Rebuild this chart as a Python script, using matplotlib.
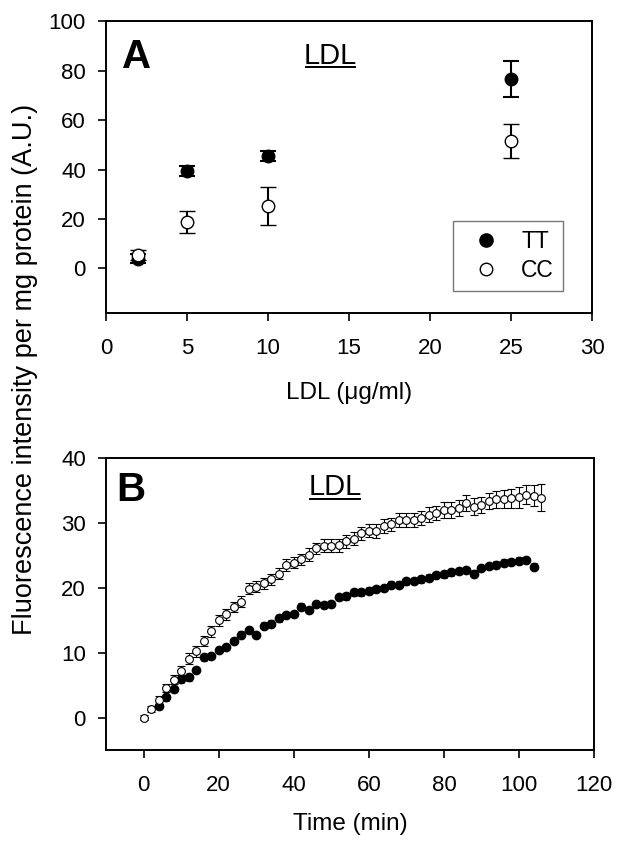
import matplotlib
matplotlib.use("Agg")
import matplotlib.pyplot as plt
from matplotlib.lines import Line2D

plt.rcParams["font.family"] = ["Liberation Sans", "DejaVu Sans"]

# ---- panel A: dose response ----
dose = [2, 5, 10, 25]
tt_a = [4.0, 39.5, 45.5, 76.5]
tt_a_err = [1.8, 2.0, 2.0, 7.2]
cc_a = [5.3, 18.8, 25.3, 51.5]
cc_a_err = [2.0, 4.3, 7.8, 6.9]

# ---- panel B: time course ----
time_cc = list(range(0, 108, 2))
cc_b = [0.0, 1.3, 2.7, 4.6, 5.8, 7.2, 9.1, 10.2, 11.8, 13.3,
        15.0, 15.9, 17.1, 17.9, 19.9, 20.2, 20.7, 21.3, 22.2, 23.5,
        23.9, 24.4, 25.1, 26.1, 26.5, 26.5, 26.6, 27.2, 27.6, 28.4,
        28.8, 28.8, 29.5, 29.8, 30.5, 30.5, 30.5, 30.8, 31.3, 31.5,
        32.0, 32.0, 32.3, 33.1, 32.5, 32.8, 33.4, 33.7, 33.7, 33.8,
        34.0, 34.4, 34.2, 33.9]
cc_b_err = [0.4, 0.5, 0.6, 0.6, 0.7, 0.7, 0.8, 0.8, 0.8, 0.8,
            0.8, 0.8, 0.8, 0.8, 0.9, 0.8, 0.9, 0.9, 0.9, 0.9,
            0.9, 0.9, 1.0, 0.9, 1.0, 1.0, 1.0, 1.0, 1.0, 1.0,
            1.0, 1.1, 1.1, 1.0, 1.1, 1.1, 1.1, 1.1, 1.2, 1.1,
            1.2, 1.2, 1.2, 1.3, 1.3, 1.3, 1.3, 1.3, 1.4, 1.4,
            1.6, 1.5, 1.6, 2.1]
time_tt = list(range(4, 106, 2))
tt_b = [1.8, 3.1, 4.4, 5.9, 6.2, 7.3, 9.3, 9.5, 10.4, 10.9,
        11.8, 12.8, 13.5, 12.7, 14.2, 14.5, 15.3, 15.8, 16.0, 17.1,
        16.6, 17.5, 17.4, 17.5, 18.6, 18.7, 19.3, 19.3, 19.6, 19.8,
        20.0, 20.5, 20.5, 21.0, 21.1, 21.3, 21.6, 22.0, 22.1, 22.4,
        22.6, 22.8, 22.2, 23.1, 23.4, 23.6, 23.9, 24.0, 24.2, 24.3,
        23.3]
tt_b_err = [0.5] * len(tt_b)

fig = plt.figure(figsize=(6.24, 8.48), dpi=100)
ax_a = fig.add_axes([0.170, 0.631, 0.779, 0.344])
ax_b = fig.add_axes([0.170, 0.1156, 0.782, 0.344])

TICK_FS = 16
LABEL_FS = 17.5


def style_axes(ax):
    for s in ax.spines.values():
        s.set_linewidth(1.4)
    ax.tick_params(direction="out", length=5.5, width=1.2, labelsize=TICK_FS)
    ax.tick_params(axis="x", pad=12.5)
    ax.tick_params(axis="y", pad=9)


def underlined(ax, x, y, s, size):
    # matplotlib mathtext has no \underline, so draw the rule under the text box
    t = ax.text(x, y, s, transform=ax.transAxes, fontsize=size,
                ha="center", va="center")
    fig.canvas.draw()
    bb = t.get_window_extent().transformed(fig.transFigure.inverted())
    fig.add_artist(Line2D([bb.x0 + 0.003, bb.x1 - 0.003], [bb.y0 + 0.003] * 2,
                          color="black", lw=1.4, transform=fig.transFigure))


# panel A
ax_a.errorbar(dose, tt_a, yerr=tt_a_err, fmt="o", color="black", mfc="black",
              mec="black", ms=9, ecolor="black", elinewidth=1.5, capsize=5.5,
              capthick=1.5, zorder=3)
ax_a.errorbar(dose, cc_a, yerr=cc_a_err, fmt="o", color="black", mfc="white",
              mec="black", ms=9, mew=1.0, ecolor="black", elinewidth=1.5,
              capsize=5.5, capthick=1.5, zorder=4)
ax_a.set_xlim(0, 30)
ax_a.set_ylim(-18, 100)
ax_a.set_xticks(range(0, 31, 5))
ax_a.set_yticks(range(0, 101, 20))
ax_a.set_xlabel("LDL (\u03bcg/ml)", fontsize=LABEL_FS, labelpad=16.5)
style_axes(ax_a)
ax_a.text(0.062, 0.877, "A", transform=ax_a.transAxes, fontsize=29,
          fontweight="bold", ha="center", va="center")

handles = [Line2D([], [], ls="none", marker="o", ms=9.5, mfc="black", mec="black"),
           Line2D([], [], ls="none", marker="o", ms=9, mfc="white", mec="black", mew=1.0)]
leg = ax_a.legend(handles, ["TT", "CC"], loc="lower right",
                  bbox_to_anchor=(0.940, 0.075), fontsize=16.5, frameon=True,
                  fancybox=False, edgecolor="#555555", handletextpad=0.55,
                  borderpad=0.4, labelspacing=0.25, handlelength=2.0,
                  borderaxespad=0)
leg.get_frame().set_linewidth(1.0)

# panel B
ax_b.errorbar(time_tt, tt_b, yerr=tt_b_err, fmt="o", color="black", mfc="black",
              mec="black", ms=6, ecolor="black", elinewidth=0.8, capsize=2.5,
              capthick=0.8, zorder=3)
ax_b.errorbar(time_cc, cc_b, yerr=cc_b_err, fmt="o", color="black", mfc="white",
              mec="black", ms=5.6, mew=0.8, ecolor="black", elinewidth=0.8,
              capsize=3, capthick=0.8, zorder=4)
ax_b.set_xlim(-10, 120)
ax_b.set_ylim(-5, 40)
ax_b.set_xticks(range(0, 121, 20))
ax_b.set_yticks(range(0, 41, 10))
ax_b.set_xlabel("Time (min)", fontsize=LABEL_FS, labelpad=12)
style_axes(ax_b)
ax_b.text(0.051, 0.89, "B", transform=ax_b.transAxes, fontsize=29,
          fontweight="bold", ha="center", va="center")

fig.text(0.04, 0.564, "Fluorescence intensity per mg protein (A.U.)",
         rotation=90, fontsize=19.5, ha="center", va="center")

underlined(ax_a, 0.462, 0.882, "LDL", 21)
underlined(ax_b, 0.469, 0.901, "LDL", 21)

fig.savefig("out.png", dpi=100)
